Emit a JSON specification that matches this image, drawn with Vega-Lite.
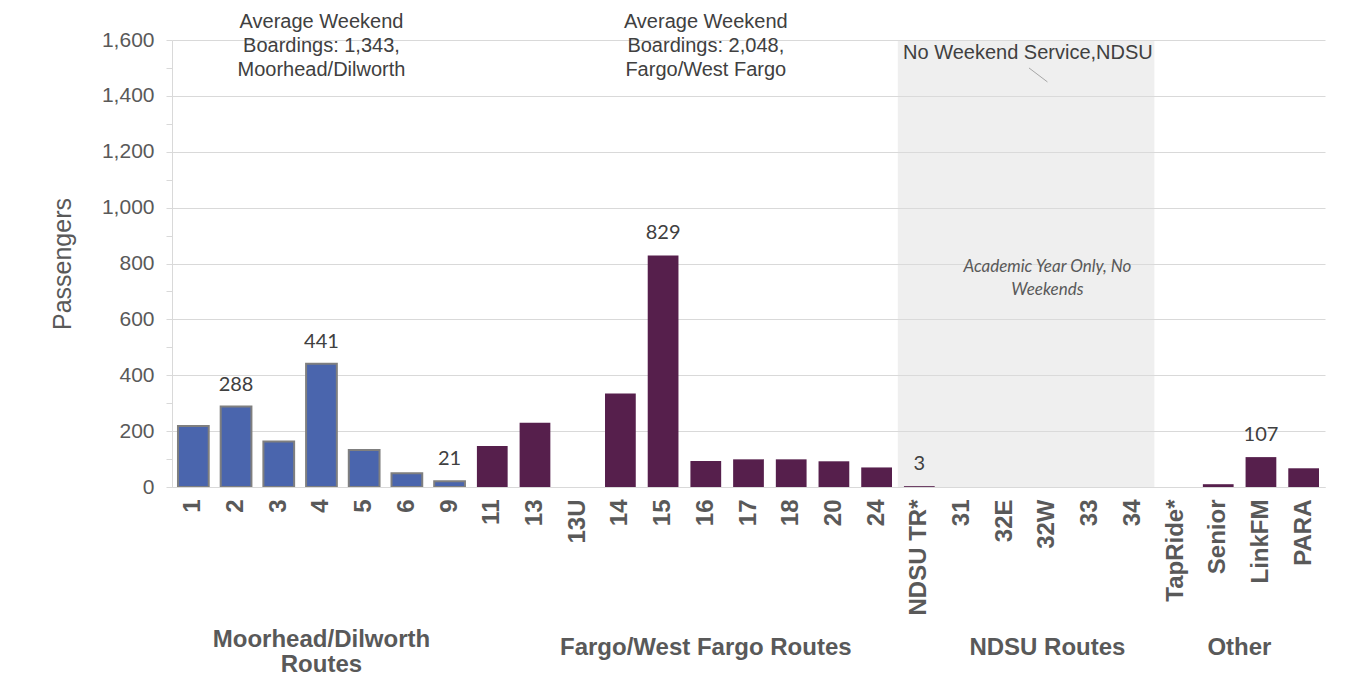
{
  "$schema": "https://vega.github.io/schema/vega-lite/v6.json",
  "width": 1153,
  "height": 447,
  "autosize": {"type": "none"},
  "padding": {"left": 172, "top": 40, "right": 29, "bottom": 190},
  "background": "white",
  "config": {"view": {"stroke": null}, "font": "Liberation Sans"},
  "datasets": {
    "bars": [
      {"cat": "1", "v": 218, "grp": "MD", "lab": null},
      {"cat": "2", "v": 288, "grp": "MD", "lab": "288"},
      {"cat": "3", "v": 163, "grp": "MD", "lab": null},
      {"cat": "4", "v": 441, "grp": "MD", "lab": "441"},
      {"cat": "5", "v": 132, "grp": "MD", "lab": null},
      {"cat": "6", "v": 49, "grp": "MD", "lab": null},
      {"cat": "9", "v": 21, "grp": "MD", "lab": "21"},
      {"cat": "11", "v": 147, "grp": "FG", "lab": null},
      {"cat": "13", "v": 230, "grp": "FG", "lab": null},
      {"cat": "13U", "v": 0, "grp": "FG", "lab": null},
      {"cat": "14", "v": 335, "grp": "FG", "lab": null},
      {"cat": "15", "v": 829, "grp": "FG", "lab": "829"},
      {"cat": "16", "v": 93, "grp": "FG", "lab": null},
      {"cat": "17", "v": 99, "grp": "FG", "lab": null},
      {"cat": "18", "v": 99, "grp": "FG", "lab": null},
      {"cat": "20", "v": 92, "grp": "FG", "lab": null},
      {"cat": "24", "v": 70, "grp": "FG", "lab": null},
      {"cat": "NDSU TR*", "v": 3, "grp": "FG", "lab": "3"},
      {"cat": "31", "v": 0, "grp": "FG", "lab": null},
      {"cat": "32E", "v": 0, "grp": "FG", "lab": null},
      {"cat": "32W", "v": 0, "grp": "FG", "lab": null},
      {"cat": "33", "v": 0, "grp": "FG", "lab": null},
      {"cat": "34", "v": 0, "grp": "FG", "lab": null},
      {"cat": "TapRide*", "v": 0, "grp": "FG", "lab": null},
      {"cat": "Senior", "v": 10, "grp": "FG", "lab": null},
      {"cat": "LinkFM", "v": 107, "grp": "FG", "lab": "107"},
      {"cat": "PARA", "v": 67, "grp": "FG", "lab": null}
    ],
    "band": [{"cat": "NDSU TR*", "cat2": "34", "v": 0, "v2": 1600}],
    "leader": [{"cat": "32W", "cat2": "32W", "v": 1500, "v2": 1450}],
    "notes": [
      {"cat": "4", "v": 1664, "t": "Average Weekend"},
      {"cat": "4", "v": 1578, "t": "Boardings: 1,343,"},
      {"cat": "4", "v": 1492, "t": "Moorhead/Dilworth"},
      {"cat": "16", "v": 1664, "t": "Average Weekend"},
      {"cat": "16", "v": 1578, "t": "Boardings: 2,048,"},
      {"cat": "16", "v": 1492, "t": "Fargo/West Fargo"}
    ],
    "notes0": [{"cat": "32W", "v": 1553, "t": "No Weekend Service,NDSU"}],
    "italic": [
      {"cat": "32W", "v": 787, "t": "Academic Year Only, No"},
      {"cat": "32W", "v": 706, "t": "Weekends"}
    ],
    "groupMD": [{"cat": "4", "v": 0, "t": "Moorhead/Dilworth\nRoutes"}],
    "groups": [
      {"cat": "16", "v": 0, "t": "Fargo/West Fargo Routes"},
      {"cat": "32W", "v": 0, "t": "NDSU Routes"}
    ],
    "groups0": [{"cat": "LinkFM", "v": 0, "t": "Other"}]
  },
  "encoding": {
    "x": {
      "field": "cat",
      "type": "nominal",
      "title": null,
      "scale": {
        "domain": ["1","2","3","4","5","6","9","11","13","13U","14","15","16","17","18","20","24","NDSU TR*","31","32E","32W","33","34","TapRide*","Senior","LinkFM","PARA"],
        "paddingInner": 0.28,
        "paddingOuter": 0.14
      },
      "axis": {
        "labelAngle": -90,
        "labelFontSize": 24,
        "labelFontWeight": "bold",
        "labelColor": "#595959",
        "labelFont": "Liberation Sans",
        "ticks": false,
        "labelPadding": 12,
        "domainColor": "#d9d9d9",
        "grid": false,
        "labelOverlap": false
      }
    },
    "y": {
      "field": "v",
      "type": "quantitative",
      "scale": {"domain": [0, 1600], "nice": false},
      "axis": {
        "title": "Passengers",
        "titleFont": "Liberation Sans",
        "titleFontSize": 25,
        "titleFontWeight": "normal",
        "titleColor": "#595959",
        "titlePadding": 26,
        "values": [0,100,200,300,400,500,600,700,800,900,1000,1100,1200,1300,1400,1500,1600],
        "labelExpr": "datum.value % 200 === 0 ? format(datum.value, ',') : ''",
        "labelFontSize": 21,
        "labelColor": "#595959",
        "labelPadding": 12,
        "labelOverlap": false,
        "labelFlush": false,
        "tickColor": "#d9d9d9",
        "tickSize": 6,
        "domainColor": "#d9d9d9",
        "gridColor": "#d9d9d9",
        "gridOpacity": {"condition": {"test": "datum.value % 200 === 0", "value": 1}, "value": 0}
      }
    }
  },
  "layer": [
    {
      "data": {"name": "band"},
      "mark": {"type": "rect", "fill": "#dcdcdc", "opacity": 0.45},
      "encoding": {
        "x": {"field": "cat", "type": "nominal", "bandPosition": -0.2, "title": null},
        "x2": {"field": "cat2", "bandPosition": 1.2},
        "y2": {"field": "v2"}
      }
    },
    {
      "data": {"name": "bars"},
      "mark": {"type": "bar", "stroke": "#7f7f7f"},
      "encoding": {
        "color": {
          "field": "grp",
          "type": "nominal",
          "scale": {"domain": ["MD", "FG"], "range": ["#4a65ad", "#561f4c"]},
          "legend": null
        },
        "strokeWidth": {"condition": {"test": "datum.grp === 'MD'", "value": 2}, "value": 0}
      }
    },
    {
      "data": {"name": "bars"},
      "transform": [{"filter": "datum.lab != null"}],
      "mark": {"type": "text", "font": "Lato", "fontSize": 20, "color": "#404040", "baseline": "alphabetic", "dy": -16},
      "encoding": {"text": {"field": "lab"}}
    },
    {
      "data": {"name": "notes"},
      "mark": {"type": "text", "font": "Liberation Sans", "fontSize": 20, "color": "#404040", "baseline": "middle"},
      "encoding": {"text": {"field": "t"}}
    },
    {
      "data": {"name": "notes0"},
      "mark": {"type": "text", "font": "Liberation Sans", "fontSize": 20, "color": "#404040", "baseline": "middle", "dx": 2},
      "encoding": {
        "x": {"field": "cat", "type": "nominal", "bandPosition": -0.2, "title": null},
        "text": {"field": "t"}
      }
    },
    {
      "data": {"name": "leader"},
      "mark": {"type": "rule", "color": "#a6a6a6", "strokeWidth": 1},
      "encoding": {
        "x": {"field": "cat", "type": "nominal", "bandPosition": -0.1, "title": null},
        "x2": {"field": "cat2", "bandPosition": 0.5},
        "y2": {"field": "v2"}
      }
    },
    {
      "data": {"name": "italic"},
      "mark": {"type": "text", "font": "Lato", "fontSize": 17, "fontStyle": "italic", "color": "#595959", "baseline": "middle"},
      "encoding": {"text": {"field": "t"}}
    },
    {
      "data": {"name": "groupMD"},
      "mark": {"type": "text", "font": "Liberation Sans", "fontSize": 24, "fontWeight": "bold", "color": "#595959", "baseline": "top", "lineBreak": "\n", "lineHeight": 25, "dy": 141},
      "encoding": {"text": {"field": "t"}}
    },
    {
      "data": {"name": "groups"},
      "mark": {"type": "text", "font": "Liberation Sans", "fontSize": 24, "fontWeight": "bold", "color": "#595959", "baseline": "top", "dy": 149},
      "encoding": {"text": {"field": "t"}}
    },
    {
      "data": {"name": "groups0"},
      "mark": {"type": "text", "font": "Liberation Sans", "fontSize": 24, "fontWeight": "bold", "color": "#595959", "baseline": "top", "dy": 149},
      "encoding": {
        "x": {"field": "cat", "type": "nominal", "bandPosition": -0.2, "title": null},
        "text": {"field": "t"}
      }
    }
  ]
}
